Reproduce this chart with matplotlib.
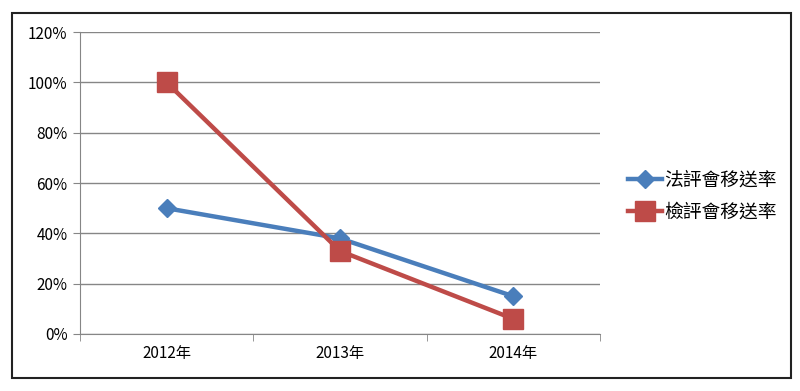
import numpy as np
import matplotlib.pyplot as plt
from matplotlib.patches import Rectangle

plt.rcParams['font.family'] = ['Noto Sans CJK TC', 'DejaVu Sans']

years = ['2012年', '2013年', '2014年']
court_rate = [50, 38, 15]        # 法評會移送率 (%)
prosecutor_rate = [100, 33, 6]   # 檢評會移送率 (%)

fig = plt.figure(figsize=(8, 3.91), dpi=100)
ax = fig.add_axes([0.1, 0.1458, 0.65, 0.772])

x = np.arange(len(years))
ax.plot(x, court_rate, color='#4A7EBB', lw=3.2, marker='D', ms=9,
        label='法評會移送率', zorder=3)
ax.plot(x, prosecutor_rate, color='#BE4B48', lw=3.2, marker='s', ms=15,
        label='檢評會移送率', zorder=4)

ax.set_xlim(-0.5, 2.5)
ax.set_ylim(0, 120)
ax.set_yticks(range(0, 121, 20))
ax.set_yticklabels([f'{v}%' for v in range(0, 121, 20)], fontsize=11)
ax.set_xticks(x)
ax.set_xticklabels(years, fontsize=11)
ax.set_xticks([-0.5, 0.5, 1.5, 2.5], minor=True)
ax.tick_params(axis='x', which='major', length=0, pad=8)
ax.tick_params(axis='x', which='minor', length=5, color='#868686', direction='out')
ax.tick_params(axis='y', length=5, color='#868686', pad=4)

ax.grid(axis='y', color='#868686', lw=1)
ax.set_axisbelow(True)
for s in ['top', 'right']:
    ax.spines[s].set_visible(False)
for s in ['left', 'bottom']:
    ax.spines[s].set_color('#868686')

ax.legend(loc='center left', bbox_to_anchor=(1.021, 0.457), frameon=False,
          fontsize=13.5, handlelength=1.8, handletextpad=0.12, labelspacing=0.55)

fig.patches.append(Rectangle((12 / 800, 13 / 391), 779 / 800, 365 / 391,
                             transform=fig.transFigure, fill=False,
                             edgecolor='#222222', lw=1.5))

fig.savefig('out.png', dpi=100)
